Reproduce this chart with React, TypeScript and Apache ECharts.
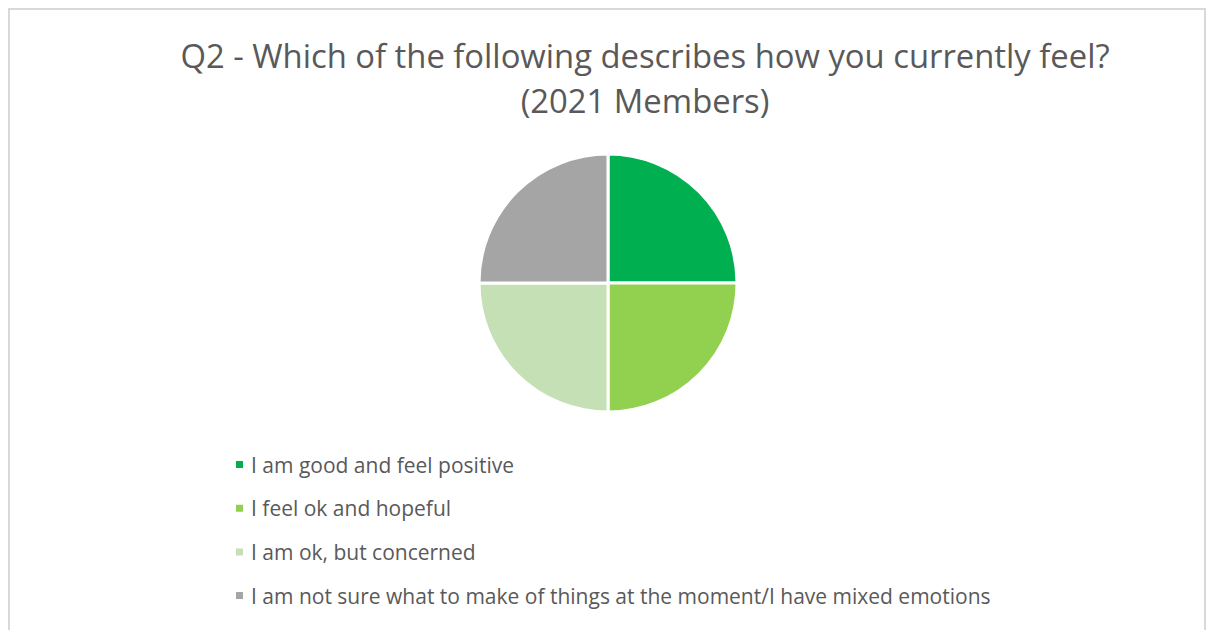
import React, { useEffect, useRef } from "react";
import * as echarts from "echarts";

const categories = [
  "I am good and feel positive",
  "I feel ok and hopeful",
  "I am ok, but concerned",
  "I am not sure what to make of things at the moment/I have mixed emotions",
];
const values = [1, 1, 1, 1];
const colors = ["#00B050", "#92D050", "#C5E0B4", "#A5A5A5"];
const titleLines = [
  "Q2 - Which of the following describes how you currently feel?",
  "(2021 Members)",
];

export default function App() {
  const ref = useRef<HTMLDivElement>(null);
  useEffect(() => {
    document.body.style.margin = "0";
    const chart = echarts.init(ref.current!, null, { renderer: "svg" });
    chart.setOption({
      animation: false,
      backgroundColor: "#ffffff",
      title: {
        text: titleLines.join("\n"),
        left: 640,
        top: 28,
        textAlign: "center",
        textStyle: {
          fontFamily: "Open Sans",
          fontSize: 32.8,
          fontWeight: "normal",
          color: "#595959",
          lineHeight: 45,
        },
      },
      graphic: [
        {
          type: "rect",
          shape: { x: 9, y: 9, width: 1196, height: 700 },
          style: { fill: "none", stroke: "#d9d9d9", lineWidth: 2 },
          silent: true,
        },
      ],
      legend: {
        orient: "vertical",
        left: 229,
        top: 449,
        itemGap: 22.7,
        itemWidth: 9,
        itemHeight: 9,
        icon: "rect",
        textStyle: {
          fontFamily: "Open Sans",
          fontSize: 21,
          color: "#595959",
          padding: [0, 0, 0, 2],
        },
        data: categories,
      },
      series: [
        {
          type: "pie",
          center: [608, 283],
          radius: 129,
          startAngle: 90,
          clockwise: true,
          label: { show: false },
          labelLine: { show: false },
          itemStyle: { borderColor: "#ffffff", borderWidth: 3 },
          emphasis: { disabled: true },
          data: categories.map((name, i) => ({
            name,
            value: values[i],
            itemStyle: { color: colors[i] },
          })),
        },
      ],
    });
    return () => chart.dispose();
  }, []);
  return <div ref={ref} style={{ width: 1207, height: 630 }} />;
}
